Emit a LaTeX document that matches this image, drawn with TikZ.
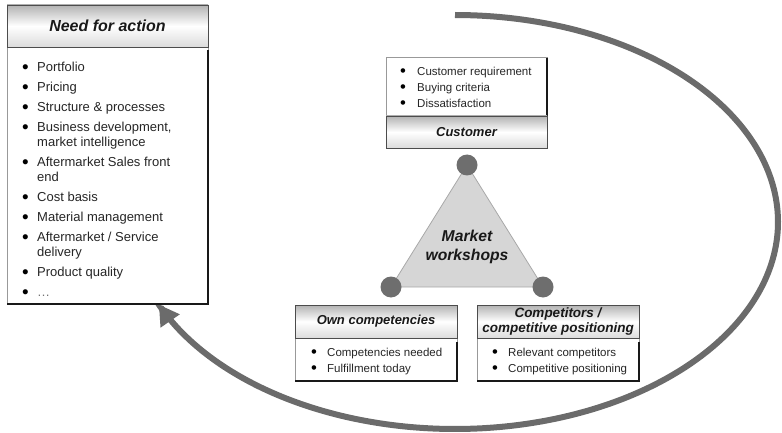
\documentclass[tikz,border=0pt]{standalone}
\usepackage{fontspec}
\setmainfont{Liberation Sans}
\usetikzlibrary{arrows.meta}
\definecolor{cyclegray}{HTML}{6B6B6B}
\definecolor{dotgray}{HTML}{6E6E6E}
\definecolor{trifill}{HTML}{D6D6D6}
\definecolor{triedge}{HTML}{A8A8A8}
% a slightly larger, solid black list bullet
\newcommand{\listdot}{\textcolor{black}{\raisebox{-0.14em}{\scalebox{1.45}{\textbullet}}}}
\begin{document}
\begin{tikzpicture}[x=1pt,y=-1pt,
  hdr/.style={rectangle, draw=black!70, line width=0.8pt, inner sep=0pt,
    top color=black!30, bottom color=black!14, middle color=white,
    font=\bfseries\itshape, text=black!90, align=center},
  bodybox/.style={rectangle, draw=black!40, line width=0.6pt, fill=white, inner sep=0pt},
  edgeline/.style={draw=black!90, line width=2pt},
  listtext/.style={anchor=north west, inner sep=0pt, text=black!85},
  corner/.style={circle, fill=dotgray, inner sep=0pt, minimum size=21pt},
  cycle/.style={draw=cyclegray, line width=6pt, -{Triangle[width=22pt,length=20pt]}}]
\useasboundingbox (0,0) rectangle (782,433);

% ---- big feedback cycle around the workshop triangle
\draw[cycle] plot[domain=90:-156.5, samples=160, smooth]
  ({455+323*cos(\x)},{222-207*sin(\x)});

% ---- Need for action
\node[bodybox, minimum width=201pt, minimum height=257pt] (needbody) at (107.5,175.5) {};
\draw[edgeline] ([yshift=-3pt]needbody.north east) -- (needbody.south east) -- (needbody.south west);
\node[hdr, minimum width=201pt, minimum height=42pt, font=\fontsize{16}{18}\selectfont\bfseries\itshape] (needhdr) at (107.5,26) {Need for action};
\node[listtext, font=\fontsize{13}{15}\selectfont] (needlist) at (22,61.2) {%
  \begin{tabular}{@{}p{15pt}@{}l@{}}
  \listdot & Portfolio\\[5pt]
  \listdot & Pricing\\[5pt]
  \listdot & Structure \& processes\\[5pt]
  \listdot & Business development,\\
           & market intelligence\\[5pt]
  \listdot & Aftermarket Sales front\\
           & end\\[5pt]
  \listdot & Cost basis\\[5pt]
  \listdot & Material management\\[5pt]
  \listdot & Aftermarket / Service\\
           & delivery\\[5pt]
  \listdot & Product quality\\[5pt]
  \listdot & \textcolor{black!55}{\ldots}
  \end{tabular}};

% ---- Customer
\node[bodybox, minimum width=161pt, minimum height=59pt] (custbody) at (466.5,86.5) {};
\draw[edgeline] ([yshift=-1pt]custbody.north east) -- (custbody.south east);
\node[hdr, minimum width=161pt, minimum height=32pt, font=\fontsize{13}{15}\selectfont\bfseries\itshape] (custhdr) at (466.5,132) {Customer};
\node[listtext, font=\fontsize{11.5}{16}\selectfont] (custlist) at (400,63.9) {%
  \begin{tabular}{@{}p{17pt}@{}l@{}}
  \listdot & Customer requirement\\
  \listdot & Buying criteria\\
  \listdot & Dissatisfaction
  \end{tabular}};

% ---- Own competencies
\node[bodybox, minimum width=162pt, minimum height=43pt] (ownbody) at (376,359.5) {};
\draw[edgeline] ([yshift=-4pt]ownbody.north east) -- (ownbody.south east) -- (ownbody.south west);
\node[hdr, minimum width=162pt, minimum height=33pt, font=\fontsize{13}{15}\selectfont\bfseries\itshape] (ownhdr) at (376,321.5) {Own competencies};
\node[listtext, font=\fontsize{11.5}{16}\selectfont] (ownlist) at (311,344.9) {%
  \begin{tabular}{@{}p{16pt}@{}l@{}}
  \listdot & Competencies needed\\
  \listdot & Fulfillment today
  \end{tabular}};

% ---- Competitors / competitive positioning
\node[bodybox, minimum width=162pt, minimum height=43pt] (compbody) at (558,359.5) {};
\draw[edgeline] ([yshift=-4pt]compbody.north east) -- (compbody.south east) -- (compbody.south west);
\node[hdr, minimum width=162pt, minimum height=33pt, font=\fontsize{13.5}{15}\selectfont\bfseries\itshape] (comphdr) at (558,321.5) {Competitors /\\competitive positioning};
\node[listtext, font=\fontsize{11.5}{16}\selectfont] (complist) at (492,344.9) {%
  \begin{tabular}{@{}p{16pt}@{}l@{}}
  \listdot & Relevant competitors\\
  \listdot & Competitive positioning
  \end{tabular}};

% ---- Market workshops triangle
\coordinate (ptop) at (467,165);
\coordinate (pleft) at (391,287);
\coordinate (pright) at (543,287);
\draw[fill=trifill, draw=triedge, line width=0.8pt] (ptop) -- (pleft) -- (pright) -- cycle;
\node[corner] (ctop) at (ptop) {};
\node[corner] (cleft) at (pleft) {};
\node[corner] (cright) at (pright) {};
\node[align=center, font=\fontsize{15.7}{19}\selectfont\bfseries\itshape, text=black!90] (market) at (467,247) {Market\\workshops};
\end{tikzpicture}
\end{document}
